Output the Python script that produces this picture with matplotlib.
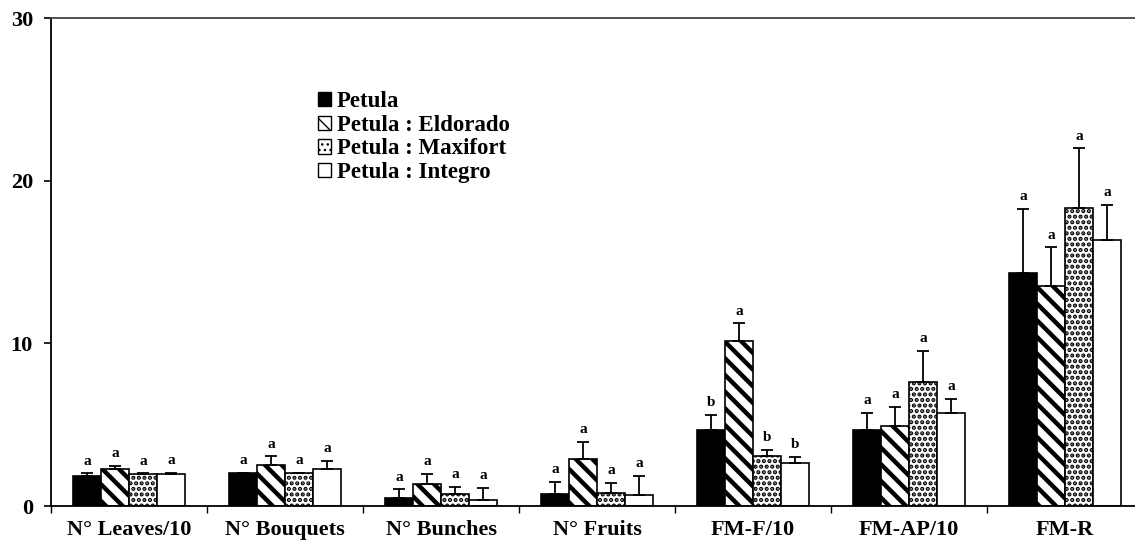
import numpy as np
import matplotlib
matplotlib.use("Agg")
import matplotlib.pyplot as plt
from matplotlib.patches import Patch

plt.rcParams['font.family'] = ['Liberation Serif', 'DejaVu Serif']
plt.rcParams['font.weight'] = 'bold'

# datos
categorias = ['N° Leaves/10', 'N° Bouquets', 'N° Bunches', 'N° Fruits',
              'FM-F/10', 'FM-AP/10', 'FM-R']
series = ['Petula', 'Petula : Eldorado', 'Petula : Maxifort', 'Petula : Integro']

petula = [1.86, 2.03, 0.51, 0.74, 4.70, 4.66, 14.34]
eldorado = [2.25, 2.52, 1.33, 2.89, 10.13, 4.90, 13.50]
maxifort = [1.99, 2.01, 0.72, 0.82, 3.08, 7.64, 18.32]
integro = [1.95, 2.29, 0.39, 0.70, 2.65, 5.73, 16.35]

err_petula = [0.15, 0.02, 0.51, 0.76, 0.92, 1.07, 3.93]
err_eldorado = [0.21, 0.55, 0.66, 1.06, 1.10, 1.20, 2.40]
err_maxifort = [0.02, 0.02, 0.47, 0.61, 0.37, 1.91, 3.68]
err_integro = [0.10, 0.50, 0.72, 1.17, 0.39, 0.87, 2.17]

letras_petula = ['a', 'a', 'a', 'a', 'b', 'a', 'a']
letras_eldorado = ['a', 'a', 'a', 'a', 'a', 'a', 'a']
letras_maxifort = ['a', 'a', 'a', 'a', 'b', 'a', 'a']
letras_integro = ['a', 'a', 'a', 'a', 'b', 'a', 'a']

valores = [petula, eldorado, maxifort, integro]
errores = [err_petula, err_eldorado, err_maxifort, err_integro]
letras = [letras_petula, letras_eldorado, letras_maxifort, letras_integro]

# estilos de cada serie
colores = ['black', 'white', 'white', 'white']
tramas = [None, '\\\\', '...', None]
grosor_trama = [1.0, 3.2, 2.1, 1.0]

fig = plt.figure(figsize=(11.35, 5.41), dpi=100)
ax = fig.add_axes([51 / 1135, 35 / 541, 1092 / 1135, 488 / 541])

x = np.arange(len(categorias)) + 0.5
ancho = 0.18

for k in range(4):
    plt.rcParams['hatch.linewidth'] = grosor_trama[k]
    pos = x + (k - 1.5) * ancho
    ax.bar(pos, valores[k], width=ancho, color=colores[k], edgecolor='black',
           linewidth=1.2, hatch=tramas[k], zorder=2)
    ax.errorbar(pos, valores[k], yerr=[np.zeros(len(pos)), errores[k]],
                fmt='none', ecolor='black', elinewidth=1.3, capsize=4,
                capthick=1.3, zorder=3)
    for p, v, e, t in zip(pos, valores[k], errores[k], letras[k]):
        ax.annotate(t, (p, v + e), xytext=(0, 4), textcoords='offset points',
                    ha='center', va='bottom', fontsize=11, fontweight='bold')

ax.set_xlim(0, 7)
ax.set_ylim(0, 30)
ax.set_yticks([0, 10, 20, 30])
ax.tick_params(axis='y', labelsize=16, length=5, width=1.2, pad=8)

ax.set_xticks(np.arange(0, 8))
ax.set_xticklabels([])
ax.set_xticks(x, minor=True)
ax.set_xticklabels(categorias, minor=True)
ax.tick_params(axis='x', which='major', length=5, width=1, direction='out')
ax.tick_params(axis='x', which='minor', length=0, labelsize=16, pad=10)

for s in ['left', 'bottom', 'top', 'right']:
    ax.spines[s].set_linewidth(1.3)
ax.spines['top'].set_color('#444444')

manijas = [Patch(facecolor=colores[k], edgecolor='black', hatch=tramas[k],
                 linewidth=1.0) for k in range(4)]
fig.legend(manijas, series, loc='upper left',
           bbox_to_anchor=(318 / 1135, 1 - 91 / 541), frameon=False,
           fontsize=16.5, handlelength=0.58, handleheight=0.58,
           handletextpad=0.25, labelspacing=0.12, borderpad=0, borderaxespad=0)

fig.savefig('out.png', dpi=100)
